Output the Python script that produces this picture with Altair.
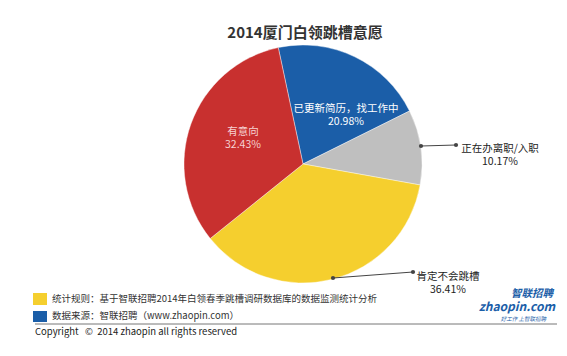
import math
import altair as alt
import pandas as pd

# ---- data ----
categories = ["已更新简历，找工作中", "正在办离职/入职", "肯定不会跳槽", "有意向"]
values = [20.98, 10.17, 36.41, 32.43]
colors = ["#1b5ea8", "#bfbfbf", "#f5cf2e", "#c8302f"]
title_text = "2014厦门白领跳槽意愿"
note_rule = "统计规则：基于智联招聘2014年白领春季跳槽调研数据库的数据监测统计分析"
note_source = "数据来源：智联招聘（www.zhaopin.com）"
copyright_text = "Copyright\u00a0\u00a0\u00a0©\u00a0\u00a02014 zhaopin all rights reserved"

FONT = "Noto Sans CJK SC"
W, H = 567, 356
CX, CY, R = 303, 164, 119
start = -12 * math.pi / 180

df = pd.DataFrame({
    "cat": categories,
    "value": values,
    "idx": list(range(len(categories))),
})
df["label"] = [f"{c}\n{v:.2f}%" for c, v in zip(categories, values)]

base = alt.Chart(df)

pie = base.mark_arc(outerRadius=R, stroke="white", strokeWidth=0.4).encode(
    x=alt.value(CX), y=alt.value(CY),
    theta=alt.Theta("value:Q", stack=True,
                    scale=alt.Scale(range=[start, start + 2 * math.pi])),
    color=alt.Color("cat:N", scale=alt.Scale(domain=categories, range=colors), legend=None),
    order=alt.Order("idx:Q"),
)

def label(cat, x, y, color):
    return base.transform_filter(alt.datum.cat == cat).mark_text(
        lineBreak="\n", font=FONT, fontSize=10.5, align="center", baseline="middle",
        color=color, lineHeight=13,
    ).encode(x=alt.value(x), y=alt.value(y), text="label:N")

lab_blue = label(categories[0], 346, 109, "white")
lab_gray = label(categories[1], 500, 149, "#222222")
lab_yel = label(categories[2], 448, 277, "#222222")
lab_red = label(categories[3], 243, 132, "#f6d2d2")

dummy = pd.DataFrame({"k": [0]})
d = alt.Chart(dummy)

def seg(x1, y1, x2, y2, color="#444444", w=1):
    return d.mark_rule(color=color, strokeWidth=w).encode(
        x=alt.value(x1), y=alt.value(y1), x2=alt.value(x2), y2=alt.value(y2))

def dot(x, y):
    return d.mark_circle(color="#444444", size=18, opacity=1).encode(
        x=alt.value(x), y=alt.value(y))

leaders = [seg(421, 146, 456, 145), dot(421, 146), dot(456, 145),
           seg(333, 278, 413, 272), dot(333, 278), dot(413, 272)]

def txt(s, x, y, size, color="#333333", align="left", weight="normal", italic=False):
    return d.mark_text(text=s, font=FONT, fontSize=size, color=color, align=align,
                       baseline="middle", fontWeight=weight,
                       fontStyle="italic" if italic else "normal").encode(
        x=alt.value(x), y=alt.value(y))

def box(x1, y1, x2, y2, color):
    return d.mark_rect(color=color).encode(
        x=alt.value(x1), y=alt.value(y1), x2=alt.value(x2), y2=alt.value(y2))

title = txt(title_text, 305, 33, 15, "#333333", "center", "bold")
foot = [
    box(33, 293, 47, 305, colors[2]), txt(note_rule, 52, 299, 9.5),
    box(33, 311, 47, 322, colors[0]), txt(note_source, 52, 316, 9.5),
    seg(35, 324, 557, 324, "#777777", 1),
    txt(copyright_text, 35, 332, 9.5, "#222222"),
    txt("智联招聘", 553, 293.5, 10.5, "#1b5ea8", "right", "bold", True),
    txt("zhaopin.com", 555, 307, 12, "#1b5ea8", "right", "bold", True),
    txt("好工作  上智联招聘", 546, 319, 5.5, "#1b5ea8", "right", "normal", True),
]

chart = alt.layer(pie, lab_blue, lab_gray, lab_yel, lab_red, *leaders, title, *foot).properties(
    width=W, height=H, padding=0, autosize=alt.AutoSizeParams(type="none"),
    background="white",
).configure_view(stroke=None)

chart.save("out.html", embed_options={"renderer": "svg", "actions": False})
